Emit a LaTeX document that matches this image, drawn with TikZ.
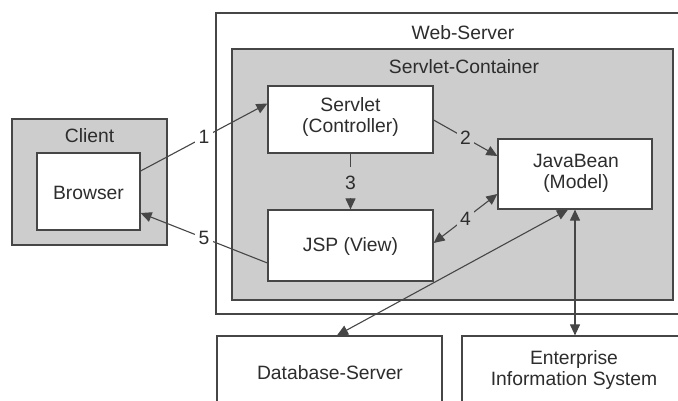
\documentclass[tikz,border=0pt]{standalone}
\usepackage{fontspec}
\setmainfont{Liberation Sans}
\usetikzlibrary{arrows.meta}
\definecolor{boxgray}{RGB}{205,205,205}
\definecolor{linegray}{RGB}{70,70,70}
\definecolor{textgray}{RGB}{45,45,45}
\begin{document}
\begin{tikzpicture}[x=1pt,y=-1pt,
  every node/.style={font=\fontsize{19.3}{21}\selectfont, text=textgray},
  box/.style={draw=linegray, line width=1.2pt, fill=white, inner sep=0pt, anchor=center},
  graybox/.style={box, fill=boxgray},
  conn/.style={draw=linegray, line width=1.1pt, -{Triangle[length=11pt,width=10pt]}},
  dconn/.style={draw=linegray, line width=1.1pt, {Triangle[length=11pt,width=10pt]}-{Triangle[length=11pt,width=10pt]}},
  lbl/.style={inner sep=2pt, align=center},
  numw/.style={fill=white, inner sep=3.5pt},
  numg/.style={fill=boxgray, inner sep=3.5pt}]
\useasboundingbox (0,0) rectangle (678,401);
\clip (0,0) rectangle (678,401);
% containers
\node[graybox, minimum width=155pt, minimum height=126pt] (client) at (89.5,182) {};
\node[box, minimum width=103pt, minimum height=77pt] (browser) at (88.5,191.5) {};
\node[box, minimum width=484pt, minimum height=301pt] (web) at (458,163.5) {};
\node[graybox, minimum width=441pt, minimum height=251pt] (cont) at (452.5,174.5) {};
\node[box, minimum width=165pt, minimum height=67pt] (servlet) at (350.5,119.5) {};
\node[box, minimum width=165pt, minimum height=71pt] (jsp) at (350.5,245.5) {};
\node[box, minimum width=154pt, minimum height=70pt] (bean) at (575,174) {};
\node[box, minimum width=225pt, minimum height=84pt] (db) at (329.5,378) {};
\node[box, minimum width=238pt, minimum height=84pt] (eis) at (581,378) {};
% texts
\node[lbl] (tclient) at (89.5,136) {Client};
\node[lbl] (tbrowser) at (88.5,193) {Browser};
\node[lbl] (tweb) at (463,33) {Web-Server};
\node[lbl] (tcont) at (464,67) {Servlet-Container};
\node[lbl] (tservlet) at (350.5,117) {Servlet\\(Controller)};
\node[lbl] (tjsp) at (350.5,247) {JSP (View)};
\node[lbl] (tbean) at (576,173) {JavaBean\\(Model)};
\node[lbl] (tdb) at (330,373) {Database-Server};
\node[lbl] (teis) at (574,370) {Enterprise\\Information System};
% connectors
\draw[conn] ([yshift=20.5pt]browser.east) -- node[numw] (n1) {1} ([yshift=16pt]servlet.west);
\draw[conn] ([yshift=-17.5pt]jsp.west) -- node[numw] (n5) {5} ([yshift=-21.5pt]browser.east);
\draw[conn] ([yshift=-0.5pt]servlet.east) -- node[numg] (n2) {2} ([yshift=18pt]bean.west);
\draw[conn] (servlet.south) -- node[numg, pos=0.52, inner ysep=9pt] (n3) {3} (jsp.north);
\draw[dconn] ([yshift=2.5pt]jsp.east) -- node[numg] (n4) {4} ([yshift=-20pt]bean.west);
\draw[dconn] ([xshift=-7pt]bean.south) -- ([xshift=7.5pt]db.north);
\draw[dconn] (bean.south) -- (bean.south |- eis.north);
\end{tikzpicture}
\end{document}
